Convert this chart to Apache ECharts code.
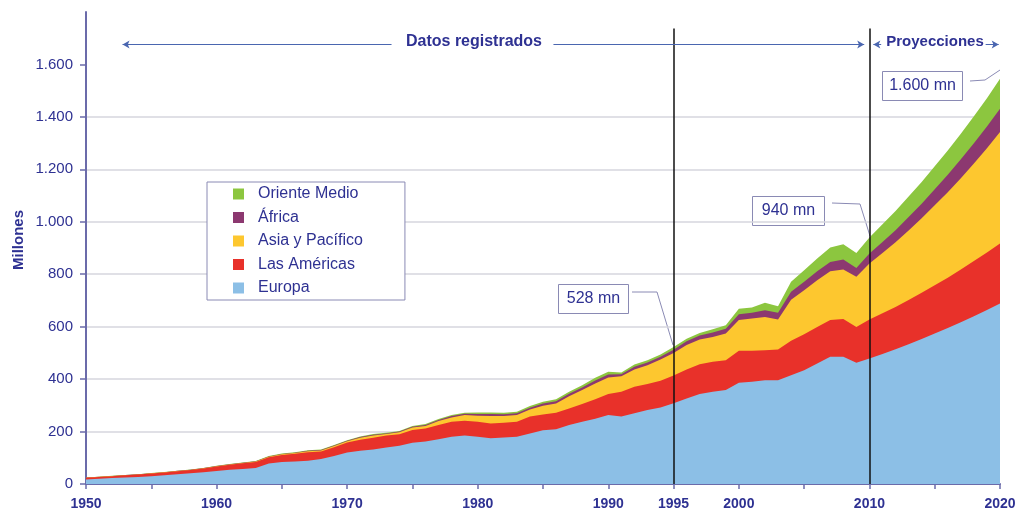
<!DOCTYPE html>
<html>
<head>
<meta charset="utf-8">
<title>Llegadas de turistas internacionales</title>
<script src="https://cdn.jsdelivr.net/npm/echarts@6/dist/echarts.min.js"></script>
<style>
  html, body { margin: 0; padding: 0; background: #fff; overflow: hidden; }
  #chart { width: 1016px; height: 511px; }
</style>
</head>
<body>
<div id="chart"></div>
<script>
// años 1950-2020 (1950-2010 datos registrados, 2011-2020 proyecciones)
const years = [
  1950, 1951, 1952, 1953, 1954, 1955, 1956, 1957, 1958, 1959,
  1960, 1961, 1962, 1963, 1964, 1965, 1966, 1967, 1968, 1969,
  1970, 1971, 1972, 1973, 1974, 1975, 1976, 1977, 1978, 1979,
  1980, 1981, 1982, 1983, 1984, 1985, 1986, 1987, 1988, 1989,
  1990, 1991, 1992, 1993, 1994, 1995, 1996, 1997, 1998, 1999,
  2000, 2001, 2002, 2003, 2004, 2005, 2006, 2007, 2008, 2009,
  2010, 2011, 2012, 2013, 2014, 2015, 2016, 2017, 2018, 2019,
  2020
]

// millones de llegadas por región
const europa = [
  17, 20, 23, 25, 27, 30, 33, 37, 41, 45,
  50, 54, 57, 61, 78, 84, 86, 89, 95, 107,
  120, 127, 132, 139, 146, 157, 162, 171, 180, 185,
  180, 174, 177, 180, 193, 205, 209, 225, 237, 249,
  263, 257, 270, 282, 292, 308, 326, 343, 352, 358,
  386, 390, 396, 396, 415, 434, 460, 485, 485, 462,
  479, 496, 514, 533, 553, 574, 595, 617, 640, 664,
  688
]
const americas = [
  7, 7, 7, 8, 9, 10, 11, 12, 12, 14,
  17, 19, 22, 23, 24, 27, 29, 32, 29, 33,
  38, 42, 44, 46, 44, 49, 50, 54, 57, 56,
  57, 57, 57, 57, 64, 60, 63, 63, 68, 74,
  80, 95, 101, 99, 102, 106, 111, 114, 114, 114,
  122, 118, 114, 117, 131, 137, 139, 140, 144, 137,
  148, 155, 161, 169, 176, 184, 192, 201, 210, 219,
  229
]
const asiaPacifico = [
  0.2, 0.3, 0.3, 0.4, 0.5, 0.6, 0.6, 0.7, 0.8, 0.9,
  0.9, 1.1, 1.3, 1.5, 1.8, 2, 3, 4, 4, 5,
  5, 7, 9, 6, 7, 9, 9, 15, 17, 22,
  23, 28, 25, 26, 27, 33, 35, 47, 53, 60,
  63, 59, 66, 72, 81, 86, 93, 94, 95, 102,
  117, 123, 127, 114, 157, 168, 178, 186, 189, 191,
  214, 230, 247, 265, 284, 305, 326, 348, 372, 397,
  425
]
const africa = [
  0.5, 0.5, 0.5, 0.6, 0.6, 0.6, 0.6, 0.7, 0.7, 0.7,
  0.8, 0.9, 1, 1.1, 1.2, 1.4, 1.5, 1.6, 1.8, 2,
  2, 3, 3, 2, 3, 3, 4, 4, 5, 5,
  7, 8, 7, 7, 7, 9, 9, 9, 10, 12,
  12, 8, 10, 10, 10, 12, 14, 15, 17, 18,
  22, 22, 26, 26, 30, 32, 34, 36, 38, 34,
  38, 42, 46, 51, 56, 61, 66, 72, 77, 83,
  89
]
const orienteMedio = [
  0.2, 0.2, 0.3, 0.3, 0.4, 0.4, 0.5, 0.5, 0.5, 0.6,
  0.6, 0.8, 1, 1.2, 1.5, 2, 2, 2, 2, 2,
  2, 2, 3, 2, 2, 3, 4, 4, 4, 4,
  6, 6, 6, 6, 6, 7, 7, 8, 9, 10,
  10, 6, 9, 9, 9, 10, 10, 10, 12, 13,
  21, 20, 28, 25, 38, 44, 49, 55, 58, 57,
  61, 68, 73, 78, 83, 88, 93, 98, 103, 108,
  114
]

const yTicks = [0, 200, 400, 600, 800, 1000, 1200, 1400, 1600]
const xLabels = [1950, 1960, 1970, 1980, 1990, 1995, 2000, 2010, 2020]
const markYears = [1995, 2010]

const navy = '#2e3192'
const boxLine = '#8a8ab4'
const font = 'Liberation Sans, Arial, sans-serif'

// capas apiladas: cada serie lleva la suma de las capas de abajo
const addUp = (...arrays) => years.map((y, i) => [y, arrays.reduce((s, a) => s + a[i], 0)])

const layer = (name, points, color) => ({
  name,
  type: 'line',
  data: points,
  symbol: 'none',
  lineStyle: { width: 0 },
  itemStyle: { color },
  areaStyle: { color, opacity: 1, origin: 'start' },
  emphasis: { disabled: true },
  silent: true
})

// líneas con flechas de la parte superior
const arrowY = 1676
const arrowLine = (from, to, symbols) => [
  { coord: [from, arrowY], symbol: symbols[0] },
  { coord: [to, arrowY], symbol: symbols[1] }
]

const boxText = (x, y, text) => ({
  type: 'text', x, y,
  style: { text, fill: navy, font: '16px ' + font, align: 'center', verticalAlign: 'middle' }
})
const boxRect = (x, y, width) => ({
  type: 'rect', shape: { x, y, width, height: 29 },
  style: { fill: '#fff', stroke: boxLine, lineWidth: 1 }
})
const leader = points => ({
  type: 'polyline', shape: { points },
  style: { stroke: boxLine, lineWidth: 1, fill: null }
})

const chart = echarts.init(document.getElementById('chart'))

chart.setOption({
  animation: false,
  textStyle: { fontFamily: font },
  grid: { left: 86, right: 16, top: 12, bottom: 27, outerBoundsMode: 'none' },
  legend: {
    data: ['Oriente Medio', 'África', 'Asia y Pacífico', 'Las Américas', 'Europa'],
    orient: 'vertical',
    left: 207,
    top: 182,
    padding: [3.5, 42, 3.5, 26],
    itemGap: 6.5,
    itemWidth: 11,
    itemHeight: 11,
    icon: 'rect',
    backgroundColor: '#fff',
    borderColor: boxLine,
    borderWidth: 1,
    borderRadius: 0,
    selectedMode: false,
    textStyle: { color: navy, fontSize: 16, fontFamily: font, padding: [0, 0, 0, 9], lineHeight: 17 }
  },
  xAxis: {
    type: 'value',
    min: 1950,
    max: 2020,
    interval: 5,
    axisLine: { lineStyle: { color: '#6b6baa', width: 2 } },
    axisTick: { length: 5, lineStyle: { color: '#6b6baa', width: 1.5 } },
    splitLine: { show: false },
    axisLabel: {
      customValues: xLabels,
      color: navy,
      fontWeight: 'bold',
      fontSize: 14,
      fontFamily: font,
      margin: 13,
      hideOverlap: false,
      formatter: v => String(v)
    }
  },
  yAxis: {
    type: 'value',
    min: 0,
    max: 1800,
    interval: 200,
    axisLine: { show: true, lineStyle: { color: '#6b6baa', width: 2 } },
    axisTick: { show: true, length: 6, customValues: yTicks, lineStyle: { color: '#6b6baa', width: 1.5 } },
    axisLabel: {
      customValues: yTicks,
      color: navy,
      fontSize: 15,
      fontFamily: font,
      margin: 13,
      formatter: v => v >= 1000 ? Math.floor(v / 1000) + '.' + String(v % 1000).padStart(3, '0') : String(v)
    },
    splitLine: { showMaxLine: false, lineStyle: { color: '#d6d6de', width: 1.5 } }
  },
  series: [
    layer('Oriente Medio', addUp(europa, americas, asiaPacifico, africa, orienteMedio), '#8cc63f'),
    layer('África', addUp(europa, americas, asiaPacifico, africa), '#8c3870'),
    layer('Asia y Pacífico', addUp(europa, americas, asiaPacifico), '#fdc72f'),
    layer('Las Américas', addUp(europa, americas), '#e8312a'),
    layer('Europa', addUp(europa), '#8cbfe6'),
    {
      // líneas verticales de 1995 y 2010
      type: 'line',
      data: [],
      silent: true,
      markLine: {
        silent: true,
        animation: false,
        label: { show: false },
        symbol: 'none',
        lineStyle: { color: '#111', width: 1.5, type: 'solid' },
        data: markYears.map(y => [{ coord: [y, 1737] }, { coord: [y, 0] }])
      }
    },
    {
      // flechas de "Datos registrados" y "Proyecciones"
      type: 'line',
      data: [],
      silent: true,
      markLine: {
        silent: true,
        animation: false,
        label: { show: false },
        symbolSize: [6, 7],
        lineStyle: { color: '#4a66b0', width: 1, type: 'solid' },
        data: [
          arrowLine(1952.8, 1973.4, ['arrow', 'none']),
          arrowLine(1985.8, 2009.6, ['none', 'arrow']),
          arrowLine(2010.3, 2010.9, ['arrow', 'none']),
          arrowLine(2018.9, 2019.9, ['none', 'arrow'])
        ]
      }
    }
  ],
  graphic: [
    { type: 'text', x: 19, y: 240, rotation: Math.PI / 2,
      style: { text: 'Millones', fill: navy, font: 'bold 15px ' + font, align: 'center', verticalAlign: 'middle' } },
    { type: 'text', x: 474, y: 42,
      style: { text: 'Datos registrados', fill: navy, font: 'bold 16px ' + font, align: 'center', verticalAlign: 'middle' } },
    { type: 'text', x: 935, y: 42,
      style: { text: 'Proyecciones', fill: navy, font: 'bold 15px ' + font, align: 'center', verticalAlign: 'middle' } },
    // 528 mn
    boxRect(558.5, 284.5, 70),
    boxText(593.5, 299, '528 mn'),
    leader([[632, 292], [657, 292], [673, 345]]),
    // 940 mn
    boxRect(752.5, 196.5, 72),
    boxText(788.5, 211, '940 mn'),
    leader([[832, 203], [860, 204], [870, 236]]),
    // 1.600 mn
    boxRect(882.5, 71.5, 80),
    boxText(922.5, 86, '1.600 mn'),
    leader([[970, 81], [985, 80], [1000, 70]])
  ]
})
</script>
</body>
</html>
